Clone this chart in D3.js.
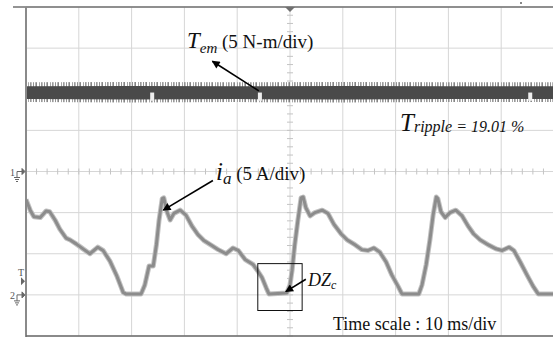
<!DOCTYPE html>
<html>
<head>
<meta charset="utf-8">
<script src="https://cdn.jsdelivr.net/npm/d3@7"></script>
<style>
  body { margin: 0; background: #fff; }
  text { font-family: "Liberation Serif", "Times New Roman", serif; fill: #111; }
</style>
</head>
<body>
<div id="scope"></div>
<script>
// time axis: 10 ms/div, 10 divisions
const gridTimeMs = [0, 10, 20, 30, 40, 50, 60, 70, 80, 90, 100];
// vertical divisions, 8 divisions, centre = 0
const gridDiv = [-4, -3, -2, -1, 0, 1, 2, 3, 4];

// channel 1: electromagnetic torque (5 N-m/div, ground at 0 div)
const temTimeMs = [0, 20, 40, 60, 80, 100];
const temUpperNm = [10.6, 10.65, 10.6, 10.65, 10.6, 10.6];
const temLowerNm = [8.8, 8.75, 8.8, 8.75, 8.8, 8.8];
const temNotchMs = [23.9, 44.3, 95.5];

// channel 2: phase current (5 A/div, ground at -3 div)
const currentTimeMs = [
  0, 0.8, 1.5, 2.7, 3.8, 4.5, 5.5, 6.4, 7.6, 8.3, 9.5, 11.0, 12.1, 13.6, 14.6,
  15.9, 17.2, 18.4, 18.9, 21.8, 22.5, 23.3, 24.1, 24.7, 25.2, 25.8, 26.1, 26.7,
  27.3, 28.0, 29.2, 30.3, 31.4, 32.6, 33.7, 35.2, 36.4, 37.9, 39.2, 40.2, 41.5,
  43.0, 43.9, 44.7, 45.5, 46.0, 49.4, 50.0, 50.4, 50.9, 51.5, 52.1, 52.5, 53.0,
  53.8, 54.7, 56.1, 57.2, 58.3, 59.7, 60.8, 62.3, 63.6, 64.8, 65.9, 67.0, 68.2,
  69.3, 70.5, 71.2, 74.4, 75.0, 75.8, 76.5, 77.1, 77.7, 78.0, 78.6, 79.4, 80.3,
  81.4, 82.6, 83.7, 84.8, 86.0, 87.5, 89.0, 90.2, 91.5, 92.4, 93.6, 94.9, 96.0,
  97.0, 100
];
const currentA = [
  11.6, 10.3, 9.5, 9.4, 10.2, 10.1, 9.1, 8.0, 6.9, 6.7, 6.2, 5.5, 5.0, 5.8, 5.4,
  4.1, 2.3, 0.3, 0.12, 0.12, 1.2, 3.5, 3.5, 6.1, 9.1, 11.7, 11.8, 10.1,
  9.1, 9.9, 10.3, 9.7, 8.4, 7.3, 6.6, 6.0, 5.5, 5.0, 5.7, 5.4, 4.3,
  3.7, 2.9, 2.1, 0.85, 0.12, 0.24, 1.2, 3.0, 6.1, 9.1, 11.8, 11.9, 10.6,
  9.6, 10.0, 10.3, 9.9, 8.6, 7.4, 6.7, 6.1, 5.5, 5.4, 5.7, 5.2, 4.0,
  2.4, 1.0, 0.12, 0.12, 1.2, 3.7, 6.7, 9.7, 11.9, 11.7, 10.1, 9.4, 10.0,
  10.3, 9.6, 8.4, 7.4, 6.7, 6.1, 5.6, 5.4, 5.8, 5.4, 4.0, 2.4, 1.1,
  0.12, 0.12
];

const W = 553, H = 337;
const svg = d3.select('#scope').append('svg')
  .attr('width', W).attr('height', H);

const x = d3.scaleLinear().domain([0, 100]).range([26, 554]);
const y = d3.scaleLinear().domain([-4, 4]).range([336, 7]);

const ch1 = nm => y(nm / 5);        // ground at 0 div
const ch2 = a => y(a / 5 - 3);      // ground at -3 div

// grid
const grid = svg.append('g').attr('class', 'grid');
grid.selectAll('line.v').data(gridTimeMs).enter().append('line')
  .attr('x1', d => x(d)).attr('x2', d => x(d))
  .attr('y1', y(4)).attr('y2', y(-4))
  .attr('stroke', '#d6d6d6').attr('stroke-width', 1);
grid.selectAll('line.h').data(gridDiv).enter().append('line')
  .attr('x1', x(0)).attr('x2', W)
  .attr('y1', d => y(d)).attr('y2', d => y(d))
  .attr('stroke', '#d6d6d6').attr('stroke-width', 1);

// minor ticks along centre axes
const minorT = d3.range(0, 100.01, 2);
grid.selectAll('line.mt').data(minorT).enter().append('line')
  .attr('x1', d => x(d)).attr('x2', d => x(d))
  .attr('y1', y(0) - 3).attr('y2', y(0) + 3)
  .attr('stroke', '#c4c4c4');
const minorD = d3.range(-4, 4.01, 0.2);
grid.selectAll('line.md').data(minorD).enter().append('line')
  .attr('x1', x(50) - 3).attr('x2', x(50) + 3)
  .attr('y1', d => y(d)).attr('y2', d => y(d))
  .attr('stroke', '#c4c4c4');

// frame
svg.append('line').attr('x1', 13).attr('x2', W).attr('y1', y(4)).attr('y2', y(4))
  .attr('stroke', '#707070').attr('stroke-width', 1.5);
svg.append('line').attr('x1', x(0)).attr('x2', x(0)).attr('y1', y(4)).attr('y2', H)
  .attr('stroke', '#8a8a8a').attr('stroke-width', 2);
svg.append('line').attr('x1', x(0)).attr('x2', W).attr('y1', y(-4)).attr('y2', y(-4))
  .attr('stroke', '#6a6a6a').attr('stroke-width', 1.5);

// trigger position marker and tiny dot
svg.append('path')
  .attr('d', `M${x(50) - 5},${y(4)} L${x(50) + 5},${y(4)} L${x(50)},${y(4) + 5} Z`)
  .attr('fill', '#707070');
svg.append('rect').attr('x', 520).attr('y', 2).attr('width', 2).attr('height', 2)
  .attr('fill', '#888');

// channel markers on left
const markers = svg.append('g').attr('fill', '#666').attr('stroke', '#666');
function groundMark(cy, label) {
  markers.append('text').attr('x', 10).attr('y', cy + 4).text(label)
    .attr('font-size', 10).attr('stroke', 'none').style('fill', '#555');
  markers.append('path').attr('d', `M17,${cy} L22,${cy} M22,${cy - 3} L25,${cy} L22,${cy + 3} Z`)
    .attr('stroke-width', 1);
  markers.append('path').attr('d', `M17,${cy} V${cy + 6} M14,${cy + 6} H20 M15,${cy + 8} H19 M16,${cy + 10} H18`)
    .attr('fill', 'none').attr('stroke-width', 1);
}
groundMark(ch1(0), '1');
groundMark(ch2(0), '2');
const trigY = ch2(1.65);
markers.append('text').attr('x', 18).attr('y', trigY - 5).text('T')
  .attr('font-size', 10).attr('stroke', 'none').style('fill', '#555');
markers.append('path').attr('d', `M21,${trigY - 4} L25,${trigY} L21,${trigY + 4} Z`)
  .attr('stroke', 'none');

// torque trace: dense band, hair-like fringe drawn with a pattern
const temData = temTimeMs.map((t, i) => ({ t, hi: temUpperNm[i], lo: temLowerNm[i] }));
const defs = svg.append('defs');
const pat = defs.append('pattern').attr('id', 'hair')
  .attr('width', 11).attr('height', 30).attr('patternUnits', 'userSpaceOnUse');
[[0, '#6e6e6e'], [2, '#9a9a9a'], [3, '#5c5c5c'], [6, '#888'], [8, '#777'], [9, '#aaa']]
  .forEach(([px, c]) => pat.append('rect').attr('x', px).attr('width', 1).attr('height', 30).attr('fill', c));
defs.append('clipPath').attr('id', 'plot').append('rect')
  .attr('x', x(0) + 1).attr('y', y(4)).attr('width', W).attr('height', y(-4) - y(4));

const traces = svg.append('g').attr('clip-path', 'url(#plot)');
traces.append('path').datum(temData)
  .attr('d', d3.area().x(d => x(d.t)).y0(d => ch1(d.lo) + 3).y1(d => ch1(d.hi) - 2))
  .attr('fill', 'url(#hair)').attr('opacity', 0.75);
traces.append('path').datum(temData)
  .attr('d', d3.area().x(d => x(d.t)).y0(d => ch1(d.lo)).y1(d => ch1(d.hi) + 2))
  .attr('fill', '#4a4a4a');
traces.selectAll('rect.notch').data(temNotchMs).enter().append('rect')
  .attr('x', d => x(d) - 2).attr('width', 4)
  .attr('y', ch1(9.6)).attr('height', ch1(8.6) - ch1(9.6))
  .attr('fill', '#eee');

// current trace
const curData = currentTimeMs.map((t, i) => ({ t, a: currentA[i] }));
const curLine = d3.line().x(d => x(d.t)).y(d => ch2(d.a));
traces.append('path').datum(curData).attr('d', curLine)
  .attr('fill', 'none').attr('stroke', '#c2c2c2').attr('stroke-width', 5)
  .attr('stroke-linejoin', 'round');
traces.append('path').datum(curData).attr('d', curLine)
  .attr('fill', 'none').attr('stroke', '#8c8c8c').attr('stroke-width', 3)
  .attr('stroke-linejoin', 'round');

// annotations
defs.append('marker').attr('id', 'head').attr('viewBox', '0 0 10 10')
  .attr('refX', 9).attr('refY', 5).attr('markerWidth', 10).attr('markerHeight', 8)
  .attr('markerUnits', 'userSpaceOnUse').attr('orient', 'auto')
  .append('path').attr('d', 'M0,0 L10,5 L0,10 Z').attr('fill', '#000');

function arrow(x1, y1, x2, y2) {
  svg.append('line').attr('x1', x1).attr('y1', y1).attr('x2', x2).attr('y2', y2)
    .attr('stroke', '#000').attr('stroke-width', 1.6).attr('marker-end', 'url(#head)');
}

// Tem label
const tem = svg.append('text').attr('x', 187).attr('y', 48);
tem.append('tspan').text('T').attr('font-style', 'italic').attr('font-size', 23);
tem.append('tspan').text('em').attr('font-style', 'italic').attr('font-size', 15).attr('dy', 5);
tem.append('tspan').text(' (5 N-m/div)').attr('font-size', 19).attr('dy', -5);
arrow(x(44.1), ch1(9.8), x(35.3), ch1(13.4));

// ripple label
const rip = svg.append('text').attr('x', 400).attr('y', 131);
rip.append('tspan').text('T').attr('font-style', 'italic').attr('font-size', 25);
rip.append('tspan').text('ripple = 19.01 %').attr('font-style', 'italic').attr('font-size', 16).attr('dy', 1);

// ia label
const ia = svg.append('text').attr('x', 216).attr('y', 180);
ia.append('tspan').text('i').attr('font-style', 'italic').attr('font-size', 25);
ia.append('tspan').text('a').attr('font-style', 'italic').attr('font-size', 17).attr('dy', 4);
ia.append('tspan').text(' (5 A/div)').attr('font-size', 19).attr('dy', -4);
arrow(x(35.4), ch2(13.9), x(26.0), ch2(10.3));

// dead-zone box
svg.append('rect')
  .attr('x', x(43.9)).attr('y', ch2(3.8))
  .attr('width', x(52.3) - x(43.9)).attr('height', ch2(-1.9) - ch2(3.8))
  .attr('fill', 'none').attr('stroke', '#111').attr('stroke-width', 1);
const dz = svg.append('text').attr('x', 308).attr('y', 286);
dz.append('tspan').text('DZ').attr('font-style', 'italic').attr('font-size', 18);
dz.append('tspan').text('c').attr('font-style', 'italic').attr('font-size', 12).attr('dy', 3);
arrow(x(53.0), ch2(1.9), x(49.2), ch2(0.4));

// time scale
svg.append('text').attr('x', 333).attr('y', 330).attr('font-size', 18)
  .text('Time scale : 10 ms/div');
</script>
</body>
</html>
